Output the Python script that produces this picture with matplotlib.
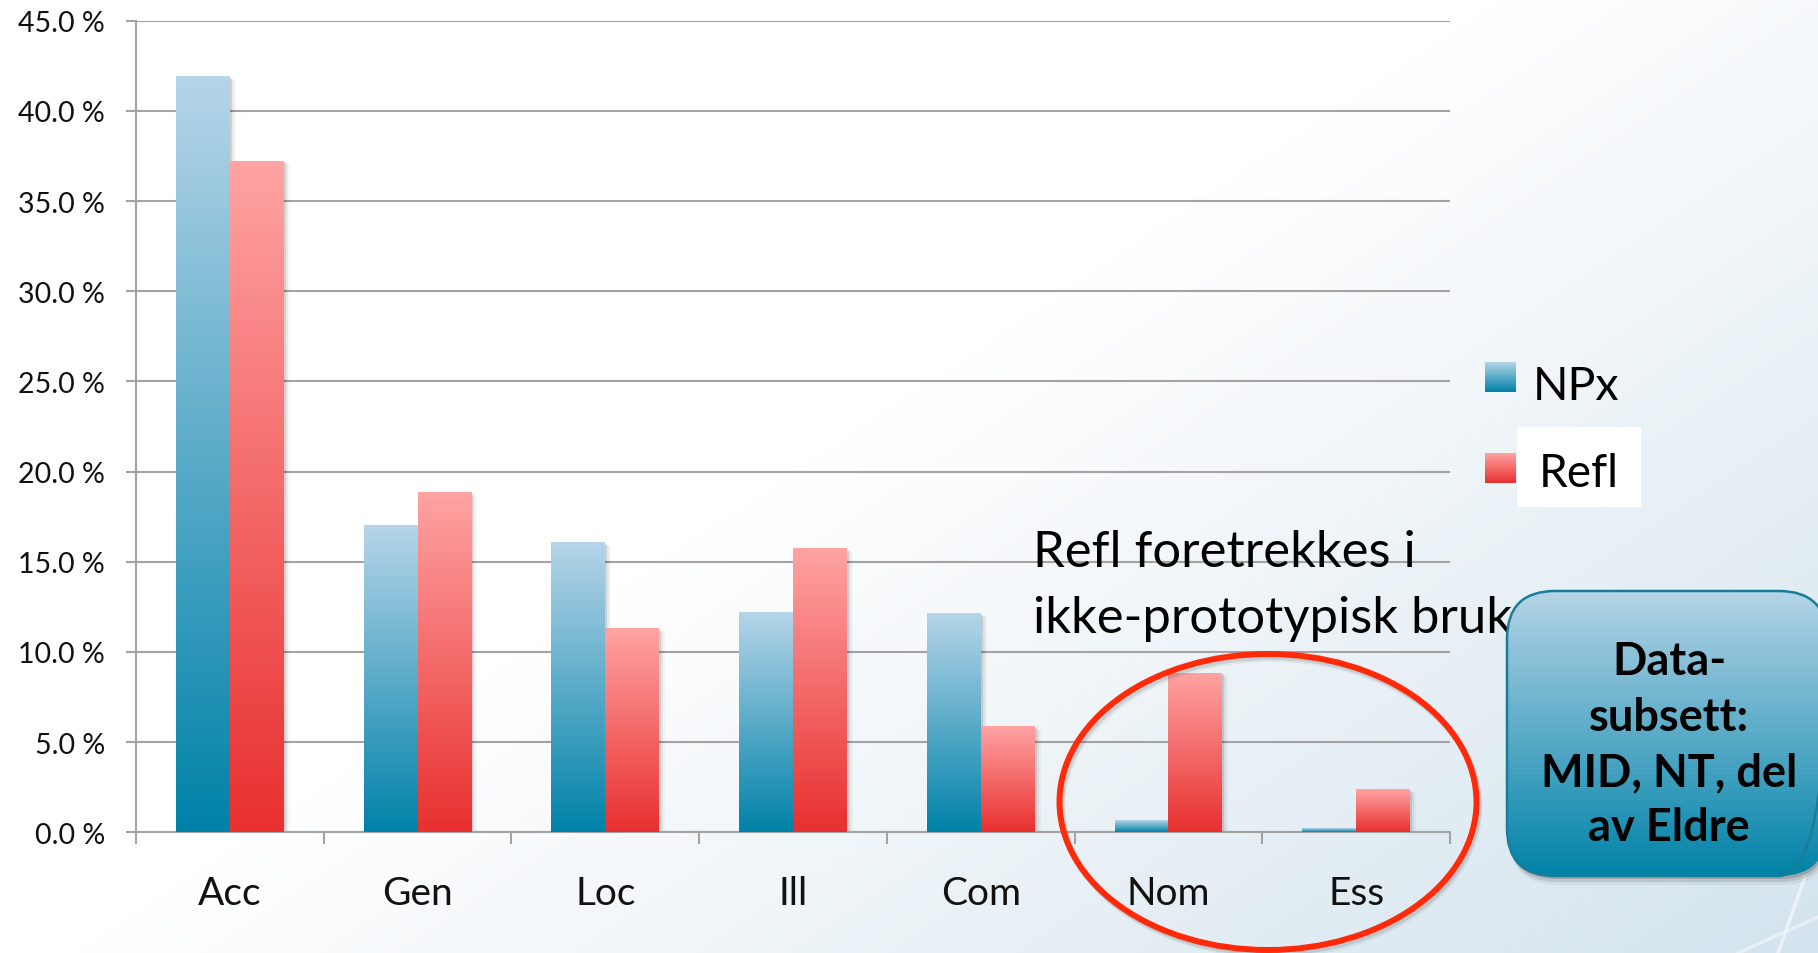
import numpy as np
import matplotlib
matplotlib.use('Agg')
import matplotlib.pyplot as plt
from matplotlib.patches import Rectangle, FancyBboxPatch, Ellipse
from matplotlib.transforms import offset_copy
from matplotlib.ticker import FuncFormatter
from matplotlib.colors import to_rgb

# ---------------- data ----------------
categories = ['Acc', 'Gen', 'Loc', 'Ill', 'Com', 'Nom', 'Ess']
npx = [41.9, 17.0, 16.05, 12.15, 12.1, 0.63, 0.17]
refl = [37.2, 18.8, 11.28, 15.71, 5.85, 8.81, 2.35]
series_names = ['NPx', 'Refl']
y_ticks = [0, 5, 10, 15, 20, 25, 30, 35, 40, 45]
note_lines = ['Refl foretrekkes i', 'ikke-prototypisk bruk']
box_lines = ['Data-', 'subsett:', 'MID, NT, del', 'av Eldre']

# ---------------- styling ----------------
plt.rcParams['font.family'] = ['Lato', 'DejaVu Sans']
W, H = 1818, 954
fig = plt.figure(figsize=(W / 100, H / 100), dpi=100)

NPX_TOP, NPX_BOT = '#b6d5e9', '#0082a8'
REFL_TOP, REFL_BOT = '#ffa3a3', '#e8302f'
GRID = '#a3a3a3'


def grad(top, bot, n=256):
    a = np.array(to_rgb(top))
    b = np.array(to_rgb(bot))
    s = np.linspace(0, 1, n)[:, None]
    return (a + (b - a) * s)[:, None, :]


# background gradient
bg = fig.add_axes([0, 0, 1, 1], zorder=-10)
xx, yy = np.meshgrid(np.linspace(0, 1, 400), np.linspace(0, 1, 210))
t = np.clip((xx * 1.15 + yy * 0.9 - 0.95) / 1.1, 0, 1)
c0 = np.array(to_rgb('#ffffff'))
c1 = np.array(to_rgb('#d3e3ed'))
bg.imshow(c0 + (c1 - c0) * t[..., None], extent=[0, 1, 0, 1], origin='upper',
          aspect='auto', interpolation='bilinear')
bg.set_xlim(0, 1); bg.set_ylim(0, 1)
bg.axis('off')

# main axes
ax = fig.add_axes([136 / W, (H - 833.3) / H, (1450 - 136) / W, (833.3 - 21.7) / H])
ax.patch.set_alpha(0)
x = np.arange(len(categories))
bw = 0.287
bars1 = ax.bar(x - bw / 2, npx, bw, color='none', zorder=3)
bars2 = ax.bar(x + bw / 2, refl, bw, color='none', zorder=3)

for bars, (top, bot) in [(bars1, (NPX_TOP, NPX_BOT)), (bars2, (REFL_TOP, REFL_BOT))]:
    for p in bars:
        x0, w, h = p.get_x(), p.get_width(), p.get_height()
        for dx, dy, al in [(2, -1, 0.10), (4, -2, 0.06), (6, -3, 0.03)]:
            ax.add_patch(Rectangle((x0, 0), w, h,
                                   transform=offset_copy(ax.transData, fig, x=dx, y=dy, units='dots'),
                                   facecolor='k', alpha=al, lw=0, zorder=2))
        ax.imshow(grad(top, bot), extent=[x0, x0 + w, 0, h], origin='upper',
                  aspect='auto', zorder=3, interpolation='bilinear')

ax.set_xlim(-0.5, len(categories) - 0.5)
ax.set_ylim(0, 45)
ax.set_yticks(y_ticks)
ax.yaxis.set_major_formatter(FuncFormatter(lambda v, _: f'{v:.1f} %'))
ax.set_xticks(x)
ax.set_xticklabels(categories)
ax.set_xticks(np.arange(-0.5, len(categories), 1), minor=True)
ax.tick_params(axis='x', which='major', length=0, pad=31, labelsize=28, labelcolor='#111111')
ax.tick_params(axis='x', which='minor', length=8.6, width=1.5, color=GRID)
ax.tick_params(axis='y', length=7.2, width=1.5, color=GRID, pad=15, labelsize=20.5,
               labelcolor='#111111')
ax.grid(axis='y', color=GRID, lw=1.5, zorder=1)
ax.set_axisbelow(True)
for s in ['top', 'right']:
    ax.spines[s].set_visible(False)
for s in ['left', 'bottom']:
    ax.spines[s].set_color(GRID)
    ax.spines[s].set_linewidth(1.5)

# overlay in pixel coordinates
ov = fig.add_axes([0, 0, 1, 1], zorder=5)
ov.patch.set_alpha(0)
ov.axis('off')

# faint swoosh lines bottom right
ov.plot([1805, 1778], [878, 954], color='white', alpha=0.55, lw=2.5, zorder=0)
ov.plot([1818, 1738], [918, 954], color='white', alpha=0.45, lw=2.5, zorder=0)

# legend
leg_y = [363, 454]
for i, (name, (top, bot)) in enumerate(zip(series_names, [(NPX_TOP, NPX_BOT), (REFL_TOP, REFL_BOT)])):
    y0 = leg_y[i]
    ov.imshow(grad(top, bot), extent=[1485, 1516, y0 + 30, y0], origin='upper',
              aspect='auto', zorder=3, interpolation='bilinear')
ov.add_patch(Rectangle((1517, 428), 124, 80, facecolor='white', lw=0, zorder=2))
ov.text(1533, 400, series_names[0], fontsize=33.5, va='baseline', ha='left', zorder=4)
ov.text(1539, 487, series_names[1], fontsize=33, va='baseline', ha='left', zorder=4)

# annotation text
ov.text(1033, 567, note_lines[0], fontsize=36.5, va='baseline', ha='left', zorder=2)
ov.text(1033, 633, note_lines[1], fontsize=36.5, va='baseline', ha='left', zorder=2)

# red ellipse
for dx, dy, al in [(2, 3, 0.10), (3, 5, 0.05)]:
    ov.add_patch(Ellipse((1268 + dx, 803 + dy), 417, 296, fill=False, ec='k', lw=4.3,
                         alpha=al, zorder=3))
ov.add_patch(Ellipse((1268, 803), 417, 296, fill=False, ec='#ff2a0a', lw=4.3, zorder=3))

# rounded info box
bx, by, bwid, bht = 1507, 592, 320, 285
for dx, dy, al in [(1, 3, 0.15), (2, 6, 0.10), (3, 9, 0.05)]:
    ov.add_patch(FancyBboxPatch((bx + dx, by + dy), bwid, bht,
                                boxstyle='round,pad=0,rounding_size=48',
                                facecolor='k', alpha=al, lw=0, zorder=6))
box = FancyBboxPatch((bx, by), bwid, bht, boxstyle='round,pad=0,rounding_size=48',
                     facecolor='none', edgecolor='#1a7d98', lw=1.8, zorder=8)
ov.add_patch(box)
im = ov.imshow(grad('#b5d4e7', '#0083a8'), extent=[bx, bx + bwid, by + bht, by],
               origin='upper', aspect='auto', zorder=7, interpolation='bilinear')
im.set_clip_path(box)
for line, yb in zip(box_lines, [675, 731, 786, 841]):
    ov.text(1669, yb, line, fontsize=32.5, fontweight='bold', ha='center', va='baseline',
            zorder=10, color='#000000')

ov.set_xlim(0, W)
ov.set_ylim(H, 0)

fig.savefig('out.png', dpi=100)
